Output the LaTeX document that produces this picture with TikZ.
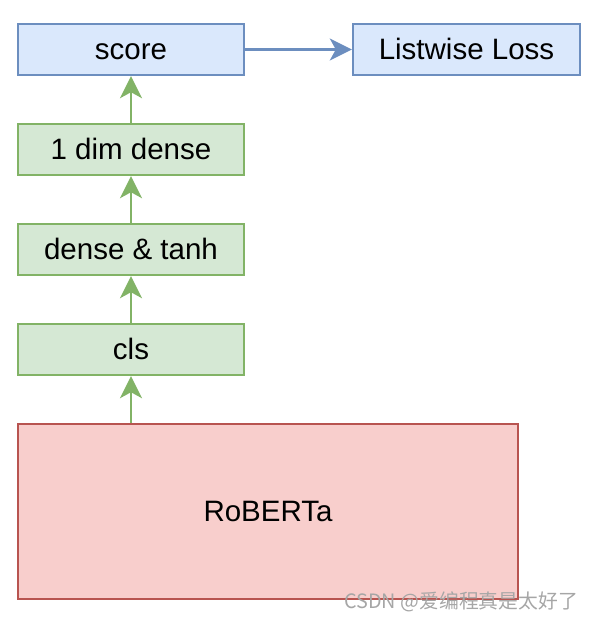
\documentclass[tikz,border=0pt]{standalone}
\usepackage{fontspec}
\setmainfont{Liberation Sans}
\newfontfamily\cjk{Noto Sans CJK SC}
\usetikzlibrary{arrows.meta}
\definecolor{bluefill}{HTML}{DAE8FC}
\definecolor{bluedraw}{HTML}{6C8EBF}
\definecolor{greenfill}{HTML}{D5E8D4}
\definecolor{greendraw}{HTML}{82B366}
\definecolor{redfill}{HTML}{F8CECC}
\definecolor{reddraw}{HTML}{B85450}
\tikzset{
  box/.style={draw,line width=2.4pt,minimum width=226pt,minimum height=51pt,inner sep=0pt,
    text height=23pt,text depth=4pt,font=\fontsize{29.5}{34}\selectfont},
  bluebox/.style={box,fill=bluefill,draw=bluedraw},
  greenbox/.style={box,fill=greenfill,draw=greendraw},
  link/.style={line width=2.4pt,-{Stealth[length=22pt,width=22pt,inset=6pt]}}
}
\begin{document}
\begin{tikzpicture}[x=1pt,y=-1pt]
\useasboundingbox (0,0) rectangle (590,622);
\node[bluebox] (score) at (131,49.5) {score};
\node[bluebox,minimum width=227pt] (loss) at (466.5,49.5) {Listwise Loss};
\node[greenbox] (dense1) at (131,149.5) {1 dim dense};
\node[greenbox] (tanh) at (131,249.5) {dense \& tanh};
\node[greenbox] (cls) at (131,349.5) {cls};
\node[box,fill=redfill,draw=reddraw,minimum width=500pt,minimum height=175pt] (roberta) at (268,511.5) {RoBERTa};
\draw[link,draw=bluedraw,fill=bluedraw] (score) -- (loss);
\draw[link,draw=greendraw,fill=greendraw] (dense1) -- (score);
\draw[link,draw=greendraw,fill=greendraw] (tanh) -- (dense1);
\draw[link,draw=greendraw,fill=greendraw] (cls) -- (tanh);
\draw[link,draw=greendraw,fill=greendraw] (roberta.north -| cls) -- (cls);
\node[text=gray!70,font=\cjk\fontsize{19.8}{22}\selectfont,anchor=east,inner sep=0pt] (mark) at (578,602) {CSDN @爱编程真是太好了};
\end{tikzpicture}
\end{document}
